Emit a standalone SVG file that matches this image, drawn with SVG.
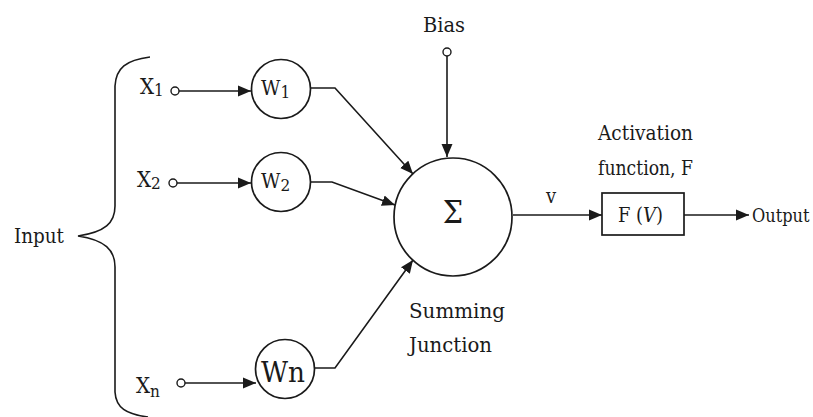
<svg xmlns="http://www.w3.org/2000/svg" width="813" height="417" viewBox="0 0 813 417">
<defs>
<marker id="arr" markerUnits="userSpaceOnUse" markerWidth="14" markerHeight="12" refX="13" refY="6" orient="auto">
<path d="M0,0.5 L13,6 L0,11.5 Z" fill="#1a1a1a"/>
</marker>
<style>
text{font-family:"DejaVu Serif","Liberation Serif",serif;font-stretch:condensed;fill:#1a1a1a}
.ln{fill:none;stroke:#1a1a1a;stroke-width:1.6}
.pt{fill:#fff;stroke:#1a1a1a;stroke-width:1.4}
.nd{fill:#fff;stroke:#1a1a1a;stroke-width:1.7}
.lbl{font-size:21px}
</style>
</defs>
<rect width="813" height="417" fill="#fff"/>

<g id="brace">
<path class="ln" d="M150,57 C126,60 116,68 115,86 L115,206 C115,223 105,232 78,236 C105,240 115,250 115,267 L115,392 C116,408 126,414 148,417"/>
<text class="lbl" x="14" y="243" textLength="50" lengthAdjust="spacingAndGlyphs">Input</text>
</g>

<g id="connectors">
<line class="ln" x1="179" y1="91" x2="251" y2="91" marker-end="url(#arr)"/>
<line class="ln" x1="177" y1="183" x2="251" y2="183" marker-end="url(#arr)"/>
<line class="ln" x1="185" y1="383" x2="256" y2="383" marker-end="url(#arr)"/>
<polyline class="ln" points="311,88 335,88 413,174" marker-end="url(#arr)"/>
<polyline class="ln" points="311,182 332,182 395,205" marker-end="url(#arr)"/>
<polyline class="ln" points="315,368 335,368 413,260" marker-end="url(#arr)"/>
<line class="ln" x1="447" y1="56" x2="447" y2="157" marker-end="url(#arr)"/>
<line class="ln" x1="513" y1="215" x2="602" y2="215" marker-end="url(#arr)"/>
<line class="ln" x1="684" y1="215" x2="749" y2="215" marker-end="url(#arr)"/>
</g>

<g id="x1">
<text x="140" y="94" font-size="22">X<tspan font-size="17" dy="2">1</tspan></text>
<circle class="pt" cx="175" cy="91" r="4"/>
</g>
<g id="x2">
<text x="137" y="187" font-size="22">X<tspan font-size="17" dy="2">2</tspan></text>
<circle class="pt" cx="173" cy="183" r="4"/>
</g>
<g id="xn">
<text x="136" y="393" font-size="22">X<tspan font-size="17" dy="4">n</tspan></text>
<circle class="pt" cx="181" cy="383" r="4"/>
</g>

<g id="w1">
<circle class="nd" cx="281" cy="89" r="29.5"/>
<text x="261" y="95" font-size="21">W<tspan font-size="17" dy="3">1</tspan></text>
</g>
<g id="w2">
<circle class="nd" cx="281" cy="182" r="29.5"/>
<text x="261" y="188" font-size="21">W<tspan font-size="17" dy="3">2</tspan></text>
</g>
<g id="wn">
<circle class="nd" cx="285" cy="369" r="29.5"/>
<text x="261" y="382" font-size="28" textLength="44" lengthAdjust="spacingAndGlyphs">Wn</text>
</g>

<g id="bias">
<text class="lbl" x="423" y="32" textLength="42" lengthAdjust="spacingAndGlyphs">Bias</text>
<circle class="pt" cx="447" cy="52" r="4"/>
</g>

<g id="sum">
<circle class="nd" cx="453" cy="217" r="59"/>
<text x="453" y="223" font-size="32" text-anchor="middle">Σ</text>
<text class="lbl" x="409" y="318" textLength="96" lengthAdjust="spacingAndGlyphs">Summing</text>
<text class="lbl" x="409" y="352" textLength="83" lengthAdjust="spacingAndGlyphs">Junction</text>
</g>

<text id="v" x="546" y="203" font-size="20">v</text>

<g id="activation">
<text class="lbl" x="598" y="140" textLength="95" lengthAdjust="spacingAndGlyphs">Activation</text>
<text class="lbl" x="598" y="175" textLength="95" lengthAdjust="spacingAndGlyphs">function, F</text>
<rect class="nd" x="602" y="193" width="82" height="42"/>
<text x="618" y="222" font-size="20" textLength="45" lengthAdjust="spacingAndGlyphs">F (<tspan font-style="italic">V</tspan>)</text>
</g>

<text id="output" x="752" y="222" font-size="18">Output</text>
</svg>
